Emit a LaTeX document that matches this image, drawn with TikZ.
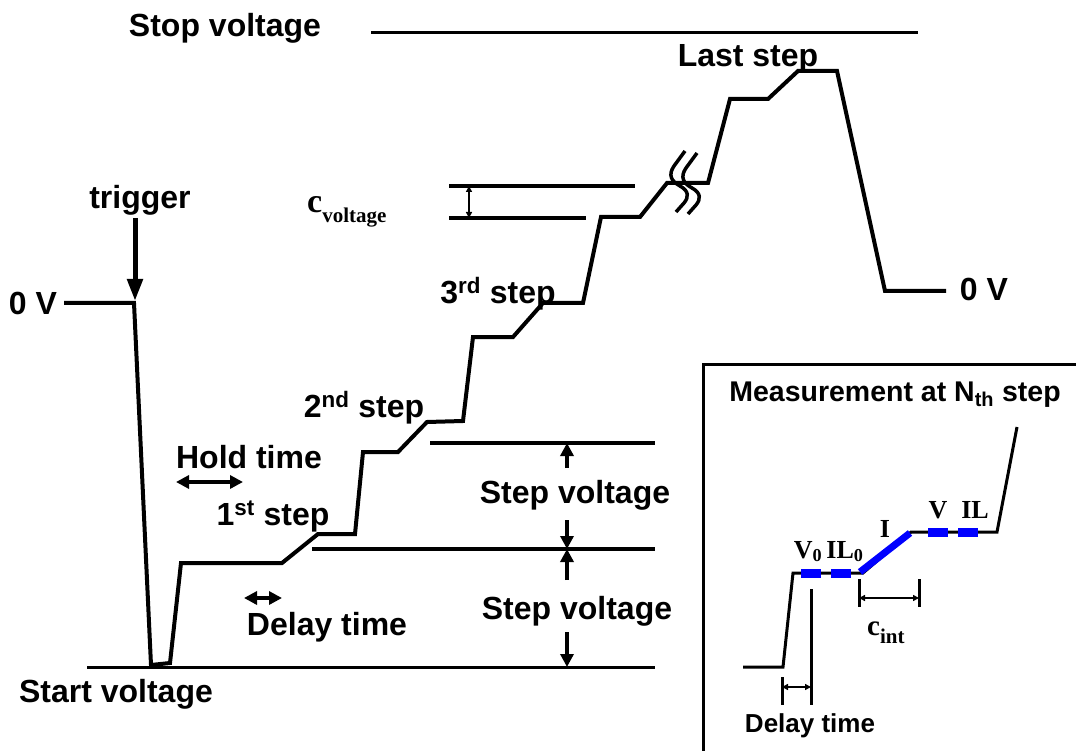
\documentclass[tikz,border=0pt]{standalone}
\usepackage{fontspec}
\setmainfont{Liberation Sans}
\newfontfamily\timesfont{Liberation Serif}
\usetikzlibrary{arrows.meta}

\begin{document}
\begin{tikzpicture}[
    x=1pt, y=-1pt,
    >={Triangle[length=13pt, width=13pt]},
    wave/.style={line width=4pt, line join=miter},
    level/.style={line width=3.5pt},
    dim/.style={line width=3.5pt, <->},
    small dim/.style={line width=1.6pt, {Triangle[length=6pt, width=6pt]}-{Triangle[length=6pt, width=6pt]}},
    meas/.style={line width=9pt, blue},
    lbl/.style={font=\fontsize{32}{36}\selectfont\bfseries, anchor=base, inner sep=0pt},
    sublbl/.style={font=\fontsize{28.5}{32}\selectfont\bfseries, anchor=base, inner sep=0pt},
    serif lbl/.style={font=\timesfont\fontsize{26}{30}\selectfont\bfseries, anchor=base, inner sep=0pt},
]
\useasboundingbox (0,0) rectangle (1076,751);

% =============================================================================
% Main waveform
% =============================================================================

% --- Reference levels ---
\draw[line width=3pt] (371,33) -- (918,33);
\node[lbl] (stop) at (225,37) {Stop voltage};

\draw[level, line width=4pt] (449,186) -- (635,186);
\draw[level, line width=4pt] (449,218) -- (586,218);
\draw[small dim] (469,186) -- (469,218);
\node[font=\timesfont\bfseries, anchor=base west, inner sep=0pt] (cvolt) at (307,213)
    {\fontsize{34}{38}\selectfont c\raisebox{-10pt}{\fontsize{21}{24}\selectfont voltage}};

\draw[level] (430,443) -- (655,443);
\draw[level] (312,549) -- (655,549);
\draw[line width=3pt] (87,667) -- (655,667);

% --- Staircase ---
\draw[wave] (64,303) -- (134,303) -- (151,665) -- (170,663) -- (181,563)
    -- (282,563) -- (318,534) -- (355,534) -- (363,452) -- (398,452)
    -- (427,422) -- (463,421) -- (473,337) -- (513,337) -- (543,303)
    -- (583,303) -- (601,217) -- (640,217) -- (667,183) -- (708,183)
    -- (730,99) -- (768,99) -- (798,71) -- (837,71) -- (885,291) -- (946,291);

% --- Break mark ---
\foreach \dx/\dy in {0/0, 12/2} {
    \draw[line width=3.5pt, shift={(\dx,\dy)}] (685,151) -- (674,166)
        .. controls (668,175) and (671,181) .. (680,186)
        .. controls (689,191) and (689,197) .. (684,203) -- (676,212);
}

% --- Labels ---
\node[lbl] (zero l) at (33,315) {0 V};
\node[lbl] (zero r) at (984,301) {0 V};
\node[lbl] (trig) at (140,209) {trigger};
\coordinate (trig top) at (135,218);
\coordinate (trig tip) at (135,301);
\draw[line width=5pt, -{Triangle[length=22pt, width=15pt]}] (trig top) -- (trig tip);
\node[lbl] (last) at (748,67) {Last step};
\node[lbl] (third) at (498,303) {3\textsuperscript{rd} step};
\node[lbl] (second) at (364,417) {2\textsuperscript{nd} step};
\node[lbl] (first) at (273,525) {1\textsuperscript{st} step};
\node[lbl] (hold) at (249,468) {Hold time};
\node[lbl] (delay) at (327,635) {Delay time};
\node[lbl] (start) at (116,702) {Start voltage};
\node[lbl] (sv1) at (575,503) {Step voltage};
\node[lbl] (sv2) at (577,619) {Step voltage};

% --- Time and voltage arrows ---
\draw[dim] (176,482) -- (243,482);
\draw[dim] (244,598) -- (282,598);
\draw[line width=3.5pt, ->] (567,468) -- (567,443);
\draw[line width=3.5pt, ->] (567,520) -- (567,549);
\draw[line width=3.5pt, ->] (567,580) -- (567,549);
\draw[line width=3.5pt, ->] (567,632) -- (567,667);

% =============================================================================
% Inset: measurement at one step
% =============================================================================
\draw[line width=3pt] (703,751) -- (703,364) -- (1076,364);
\node[sublbl] (meas) at (895,401) {Measurement at N\textsubscript{th} step};

\draw[line width=3pt, line join=miter] (743,667) -- (783,667) -- (793,573) -- (863,573)
    -- (911,532) -- (997,532) -- (1017,427);

% blue windows
\draw[meas] (801,573) -- (821,573);
\draw[meas] (831,573) -- (851,573);
\draw[meas] (928,532) -- (948,532);
\draw[meas] (958,532) -- (978,532);
\draw[blue, line width=7pt] (860,572) -- (910,533);

\node[serif lbl] (v0) at (808,558) {V\textsubscript{0}};
\node[serif lbl] (il0) at (845,558) {IL\textsubscript{0}};
\node[serif lbl] (ii) at (885,537) {I};
\node[serif lbl] (vv) at (938,518) {V};
\node[serif lbl] (il) at (975,518) {IL};

% delay time
\draw[line width=3pt] (782,677) -- (782,705);
\draw[line width=3pt] (811,589) -- (811,705);
\draw[small dim, line width=2pt] (782,687) -- (811,687);
\node[font=\fontsize{26}{30}\selectfont\bfseries, anchor=base, inner sep=0pt]
    (delay in) at (810,732) {Delay time};

% integration time
\draw[line width=3pt] (859,579) -- (859,607);
\draw[line width=3pt] (919,579) -- (919,607);
\draw[small dim, line width=2pt] (859,598) -- (919,598);
\node[font=\timesfont\bfseries, anchor=base west, inner sep=0pt] (cint) at (867,635)
    {\fontsize{29}{32}\selectfont c\raisebox{-8pt}{\fontsize{21}{24}\selectfont int}};

\end{tikzpicture}
\end{document}
